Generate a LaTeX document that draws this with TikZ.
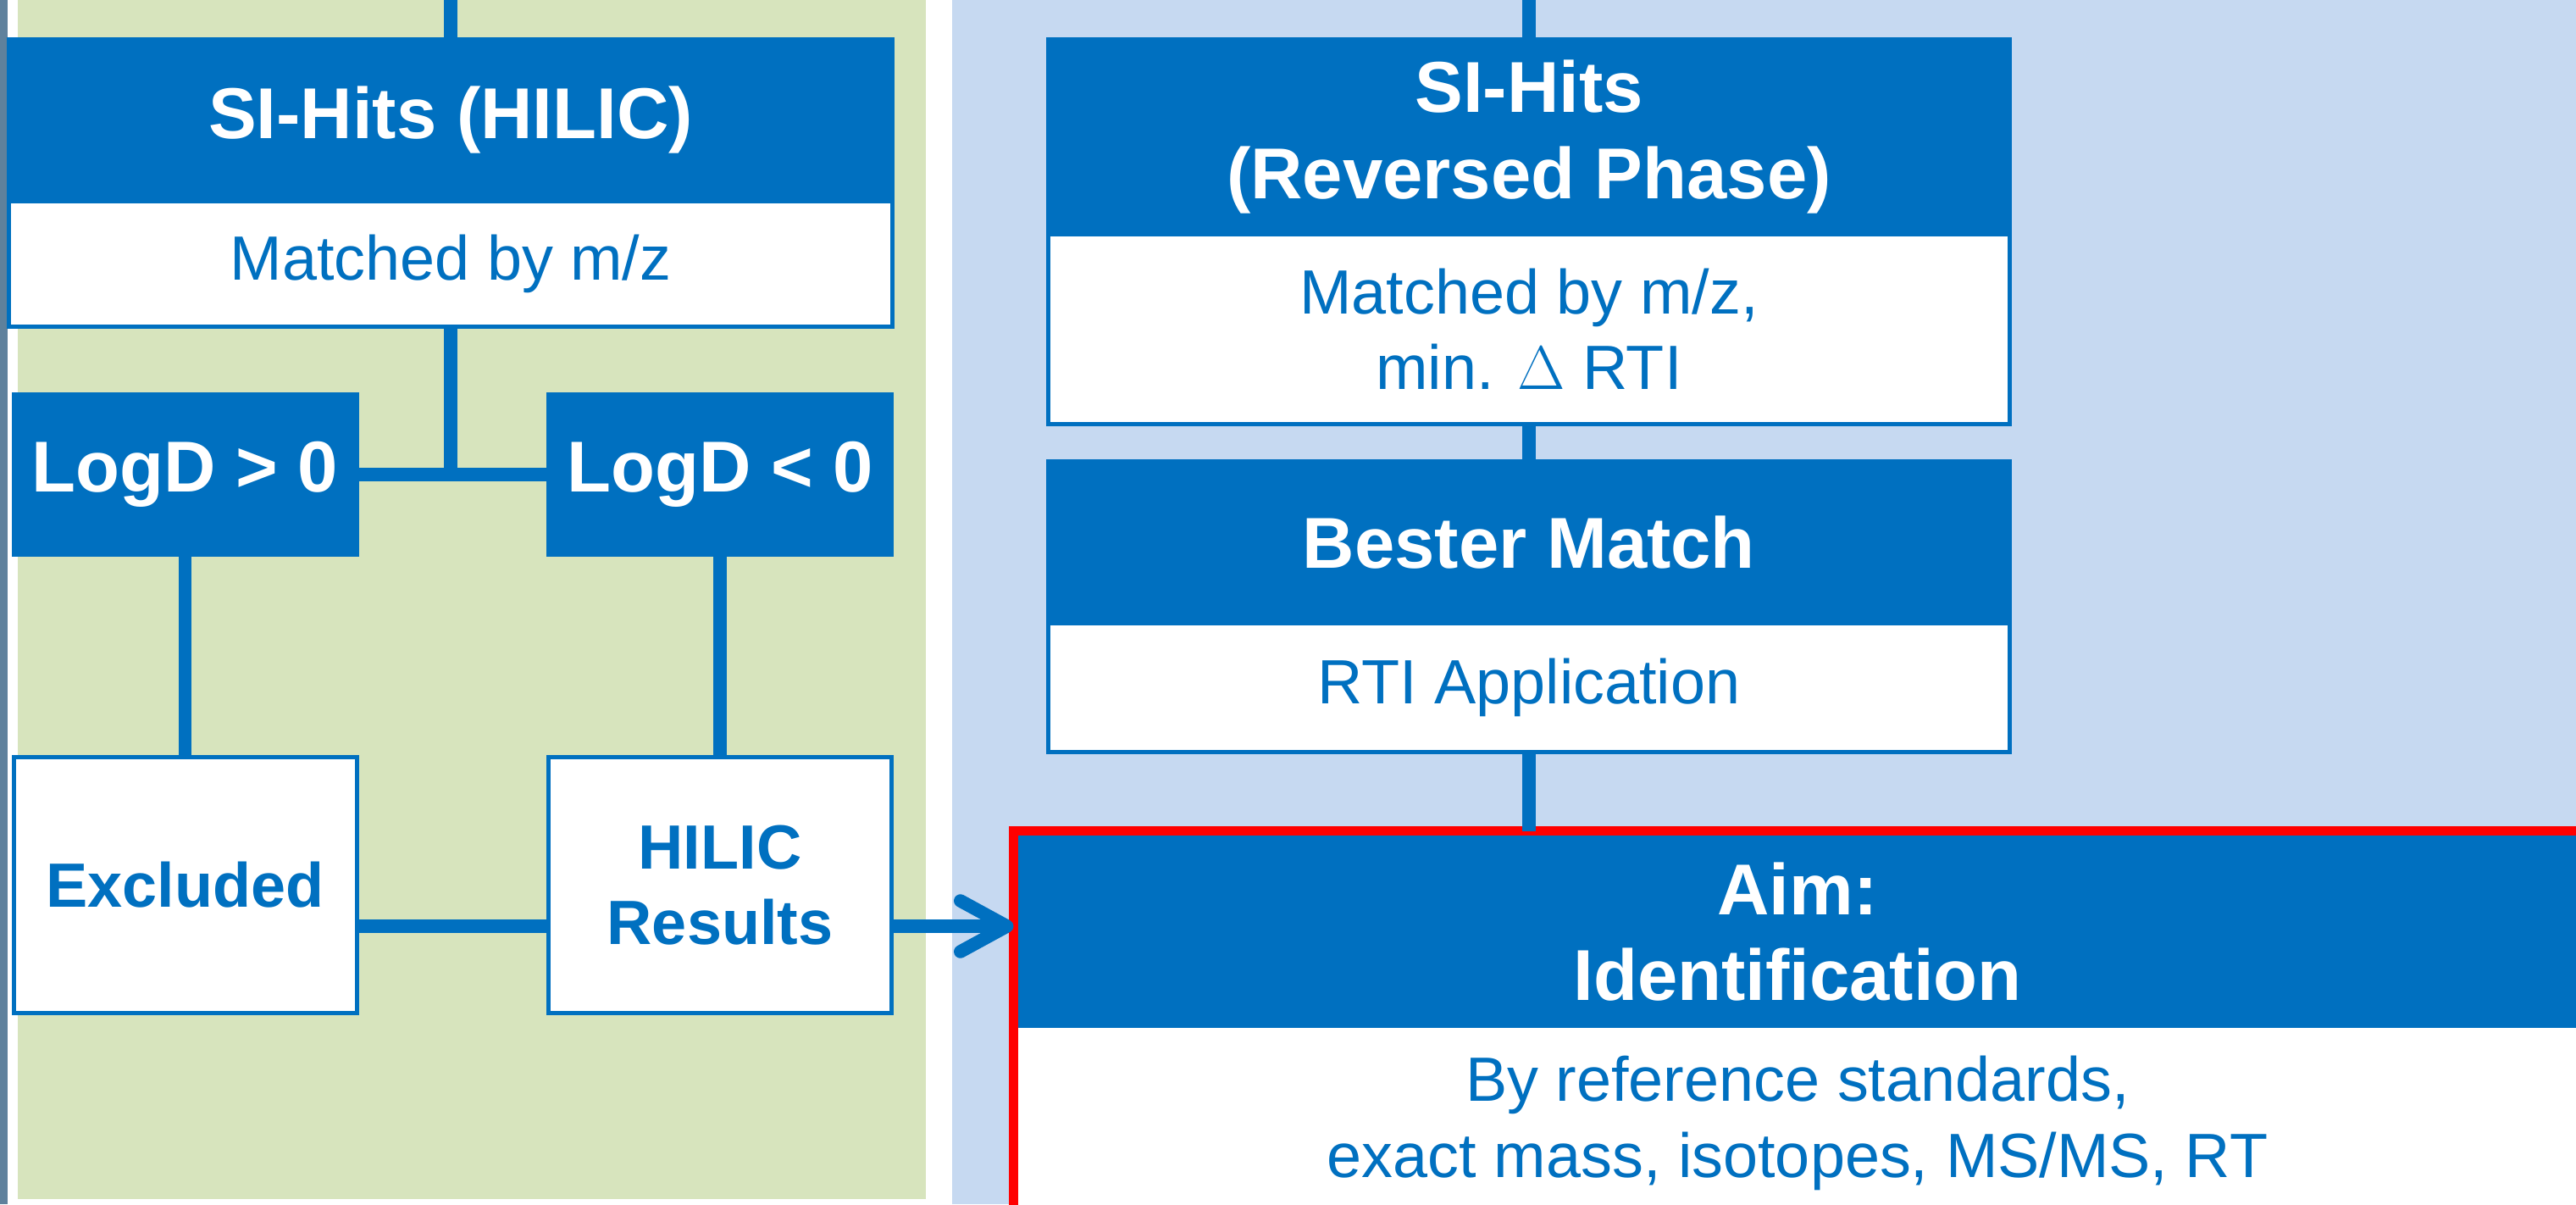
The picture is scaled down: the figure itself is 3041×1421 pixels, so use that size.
\documentclass[tikz,border=0pt]{standalone}
\usepackage{fontspec}
\setmainfont{Liberation Sans}
\usetikzlibrary{positioning, fit, arrows.meta}
\definecolor{sisblue}{HTML}{0070C0}
\definecolor{hilicgreen}{HTML}{D7E4BD}
\definecolor{rpblue}{HTML}{C6D9F1}
\definecolor{edgegray}{HTML}{5F819C}
\tikzstyle{flowbox} = [text centered, align=center, inner sep=0pt, outer sep=0pt, line width=0.05cm]
\tikzstyle{headbox} = [flowbox, fill=sisblue, draw=sisblue, text=white, font=\bfseries\fontsize{24.2}{28.9}\selectfont]
\tikzstyle{bodybox} = [flowbox, fill=white, draw=sisblue, text=sisblue, font=\fontsize{21}{25.6}\selectfont]
\tikzstyle{resultbox} = [bodybox, font=\bfseries\fontsize{21}{25.4}\selectfont, minimum width=4.05cm, minimum height=3.02cm]
\tikzstyle{logdbox} = [headbox, minimum width=4.05cm, minimum height=1.89cm]
\tikzstyle{aimframe} = [draw=red, line width=0.11cm, inner sep=0.055cm, outer sep=0pt]
\tikzstyle{flowline} = [draw=sisblue, line width=0.155cm]
\tikzstyle{flowarrow} = [flowline, -{Straight Barb[round, length=0.55cm, width=0.6cm]}]

\begin{document}
\begin{tikzpicture}[x=0.1mm, y=-0.1mm]
		\useasboundingbox (0,0) rectangle (3041,1421);
		% panels
		\fill[edgegray] (0,0) rectangle (9,1421);
		\fill[hilicgreen] (21,0) rectangle (1093,1415);
		\fill[rpblue] (1124,0) rectangle (3041,1421);
		% HILIC column
		\node (hilic) [headbox, minimum width=10.43cm, minimum height=1.905cm] at (532,141.75) {SI-Hits (HILIC)};
		\node (hilic_sub) [bodybox, minimum width=10.43cm, minimum height=1.485cm, below=0pt of hilic] {Matched by m/z};
		\node (logd_pos) [logdbox] at (218.5,560) {LogD > 0};
		\node (logd_neg) [logdbox, right=2.265cm of logd_pos] {LogD < 0};
		\node (excluded) [resultbox, below=2.39cm of logd_pos] {Excluded};
		\node (hilic_res) [resultbox, below=2.39cm of logd_neg] {HILIC\\Results};
		% reversed phase column
		\node (rp) [headbox, minimum width=11.35cm, minimum height=2.295cm] at (1805,161.25) {SI-Hits\\(Reversed Phase)};
		\node (rp_sub) [bodybox, minimum width=11.35cm, minimum height=2.245cm, below=0pt of rp] {Matched by m/z,\\min. $\Delta$ RTI};
		\node (bester) [headbox, minimum width=11.35cm, minimum height=1.905cm, below=0.44cm of rp_sub] {Bester Match};
		\node (bester_sub) [bodybox, minimum width=11.35cm, minimum height=1.525cm, below=0pt of bester] {RTI Application};
		% aim
		\node (aim) [headbox, draw=none, minimum width=18.4cm, minimum height=2.27cm] at (2122,1099.5) {Aim:\\Identification};
		\node (aim_sub) [bodybox, draw=none, minimum width=18.4cm, minimum height=2.25cm, below=0pt of aim] {By reference standards,\\exact mass, isotopes, MS/MS, RT};
		\node (aim_frame) [aimframe, fit=(aim)(aim_sub)] {};
		% connectors
		\coordinate (src_l) at (532,0);
		\coordinate (src_r) at (1805,0);
		\coordinate (row) at (0,1093);
		\draw [flowline] (src_l) -- (hilic.north);
		\draw [flowline] (hilic_sub.south) -- (hilic_sub.south |- logd_pos.east);
		\draw [flowline] (logd_pos.east) -- (logd_neg.west);
		\draw [flowline] (logd_pos.south) -- (excluded.north);
		\draw [flowline] (logd_neg.south) -- (hilic_res.north);
		\draw [flowline] (excluded.east |- row) -- (hilic_res.west |- row);
		\draw [flowarrow] (hilic_res.east |- row) -- (aim_frame.west |- row);
		\draw [flowline] (src_r) -- (rp.north);
		\draw [flowline] (rp_sub.south) -- (bester.north);
		\draw [flowline] (bester_sub.south) -- (bester_sub.south |- aim_frame.north);
	\end{tikzpicture}
\end{document}
